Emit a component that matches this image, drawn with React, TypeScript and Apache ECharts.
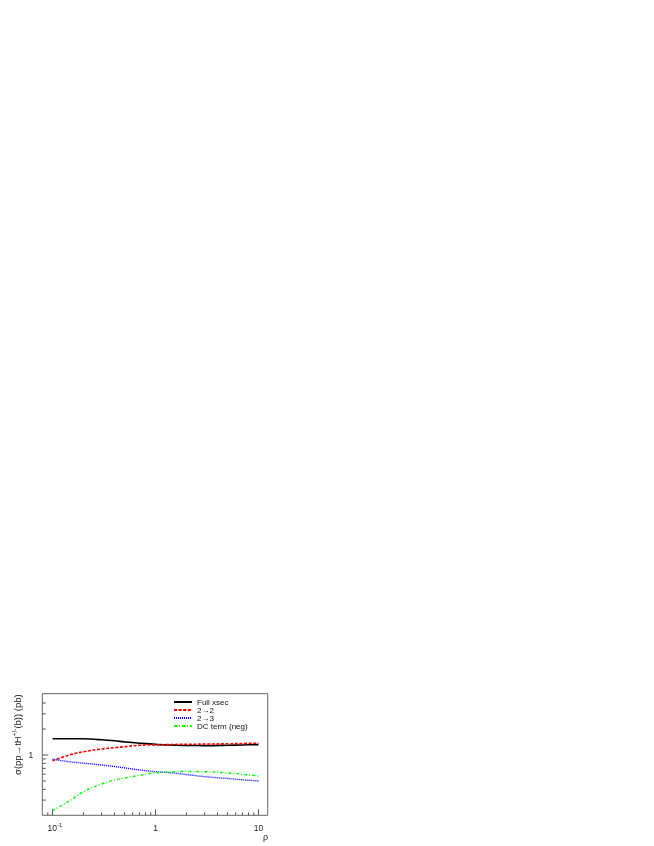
import React, { useEffect, useRef } from "react";
import * as echarts from "echarts";

const rho = [0.1, 0.15, 0.2, 0.3, 0.4, 0.5, 0.7, 1, 1.5, 2, 3, 5, 7, 10];
const fullXsec = [1.545, 1.545, 1.54, 1.5, 1.46, 1.42, 1.37, 1.327, 1.302, 1.288, 1.285, 1.295, 1.306, 1.32];
const xsec22 = [0.859, 1.01, 1.09, 1.174, 1.215, 1.248, 1.296, 1.309, 1.323, 1.33, 1.338, 1.348, 1.359, 1.37];
const xsec23 = [0.892, 0.832, 0.804, 0.766, 0.734, 0.709, 0.67, 0.64, 0.618, 0.593, 0.561, 0.534, 0.516, 0.5];
const dcTerm = [0.226, 0.3, 0.377, 0.461, 0.513, 0.541, 0.582, 0.622, 0.638, 0.644, 0.64, 0.62, 0.598, 0.571];

const seriesNames = ["Full xsec", "2\u21922", "2\u21923", "DC term (neg)"];

const xMajorTicks = [0.1, 1, 10];
const xMinorTicks = [0.09, 0.2, 0.3, 0.4, 0.5, 0.6, 0.7, 0.8, 0.9, 2, 3, 4, 5, 6, 7, 8, 9];
const yMajorTicks = [1];
const yMinorTicks = [0.3, 0.4, 0.5, 0.6, 0.7, 0.8, 0.9, 2, 3, 4];

const xTickLabels = [
  { value: 0.1, base: "10", exp: "-1" },
  { value: 1, base: "1", exp: "" },
  { value: 10, base: "10", exp: "" },
];
const yTickLabels = [{ value: 1, text: "1" }];

const FONT = "'Liberation Sans', Arial, Helvetica, sans-serif";

export default function App() {
  const ref = useRef<HTMLDivElement>(null);

  useEffect(() => {
    if (!ref.current) return;
    const chart = echarts.init(ref.current, undefined, { renderer: "svg" });

    const tickData: number[][] = [];
    xMajorTicks.forEach((v) => tickData.push([v, 1, 0, 1]));
    xMinorTicks.forEach((v) => tickData.push([v, 1, 0, 0]));
    yMajorTicks.forEach((v) => tickData.push([1, v, 1, 1]));
    yMinorTicks.forEach((v) => tickData.push([1, v, 1, 0]));

    const labelData: number[][] = [];
    xTickLabels.forEach((l) => labelData.push([l.value, 1, 0]));
    yTickLabels.forEach((l) => labelData.push([1, l.value, 1]));

    const mk = (arr: number[]) => rho.map((r, i) => [r, arr[i]]);

    const lineSeries = (name: string, arr: number[], color: string, width: number, type: any) => ({
      name,
      type: "line",
      data: mk(arr),
      showSymbol: false,
      symbol: "none",
      smooth: 0.35,
      lineStyle: { color, width, type },
      itemStyle: { color, opacity: 0 },
    });

    const option: any = {
      animation: false,
      grid: {
        show: true,
        left: 42.3,
        top: 693.7,
        width: 225.4,
        height: 121.6,
        borderColor: "#666",
        borderWidth: 1,
        backgroundColor: "transparent",
      },
      xAxis: {
        type: "log",
        logBase: 10,
        min: 0.0796,
        max: 12.28,
        axisLine: { show: false },
        axisTick: { show: false },
        axisLabel: { show: false },
        splitLine: { show: false },
      },
      yAxis: {
        type: "log",
        logBase: 10,
        min: 0.2,
        max: 5.13,
        axisLine: { show: false },
        axisTick: { show: false },
        axisLabel: { show: false },
        splitLine: { show: false },
      },
      legend: {
        data: seriesNames,
        orient: "vertical",
        left: 173,
        top: 698,
        itemWidth: 18,
        itemHeight: 7.6,
        itemGap: 0,
        padding: 0,
        itemStyle: { opacity: 0 },
        textStyle: { fontSize: 8, fontFamily: FONT, color: "#111", lineHeight: 7.6 },
      },
      series: [
        lineSeries(seriesNames[0], fullXsec, "#000000", 1.6, "solid"),
        lineSeries(seriesNames[1], xsec22, "#ff0000", 1.6, [3, 1.6]),
        lineSeries(seriesNames[2], xsec23, "#0000ff", 1.4, [1, 1]),
        lineSeries(seriesNames[3], dcTerm, "#00ff00", 1.4, [3, 2, 1, 2]),
        {
          type: "custom",
          silent: true,
          clip: false,
          data: tickData,
          encode: { x: 0, y: 1 },
          renderItem: (params: any, api: any) => {
            const kind = api.value(2);
            const major = api.value(3);
            const cs = params.coordSys;
            if (kind === 0) {
              const p = api.coord([api.value(0), 1]);
              const len = major ? 6 : 3;
              const yb = cs.y + cs.height;
              return {
                type: "line",
                shape: { x1: p[0], y1: yb, x2: p[0], y2: yb - len },
                style: { stroke: "#555", lineWidth: 1 },
              };
            }
            const p = api.coord([1, api.value(1)]);
            const len = major ? 6 : 3.5;
            return {
              type: "line",
              shape: { x1: cs.x, y1: p[1], x2: cs.x + len, y2: p[1] },
              style: { stroke: "#555", lineWidth: 1 },
            };
          },
        },
        {
          type: "custom",
          silent: true,
          clip: false,
          data: labelData,
          encode: { x: 0, y: 1 },
          renderItem: (params: any, api: any) => {
            const kind = api.value(2);
            const cs = params.coordSys;
            const idx = params.dataIndex;
            if (kind === 0) {
              const lab = xTickLabels[idx];
              const p = api.coord([lab.value, 1]);
              const text = lab.exp ? `{b|${lab.base}}{s|${lab.exp}}` : `{b|${lab.base}}`;
              const shift = lab.exp ? 2.5 : 0;
              return {
                type: "text",
                style: {
                  text,
                  x: p[0] + shift,
                  y: cs.y + cs.height + 12,
                  align: "center",
                  verticalAlign: "middle",
                  fill: "#222",
                  rich: {
                    b: { fontSize: 8.5, fontFamily: FONT, fill: "#222", verticalAlign: "bottom", lineHeight: 11 },
                    s: { fontSize: 6, fontFamily: FONT, fill: "#222", verticalAlign: "top", lineHeight: 11 },
                  },
                },
              };
            }
            const lab = yTickLabels[idx - xTickLabels.length];
            const p = api.coord([1, lab.value]);
            return {
              type: "text",
              style: {
                text: lab.text,
                x: cs.x - 9,
                y: p[1],
                align: "right",
                verticalAlign: "middle",
                fill: "#222",
                fontSize: 8.5,
                fontFamily: FONT,
              },
            };
          },
        },
      ],
      graphic: [
        {
          type: "text",
          x: 265.5,
          y: 837,
          style: {
            text: "\u03c1",
            fontSize: 9,
            fontFamily: FONT,
            fill: "#222",
            align: "center",
            verticalAlign: "middle",
          },
        },
        {
          type: "text",
          x: 16.5,
          y: 694.3,
          rotation: Math.PI / 2,
          style: {
            text: "{n|\u03c3(pp\u2192tH}{s|+/-}{n|(b)) (pb)}",
            align: "right",
            verticalAlign: "middle",
            fill: "#222",
            rich: {
              n: { fontSize: 9.5, fontFamily: FONT, fill: "#222", verticalAlign: "bottom", lineHeight: 12 },
              s: { fontSize: 6.5, fontFamily: FONT, fill: "#222", verticalAlign: "top", lineHeight: 12 },
            },
          },
        },
      ],
    };

    chart.setOption(option);
    return () => chart.dispose();
  }, []);

  return (
    <div
      ref={ref}
      style={{ position: "fixed", left: 0, top: 0, width: 654, height: 846 }}
    />
  );
}
